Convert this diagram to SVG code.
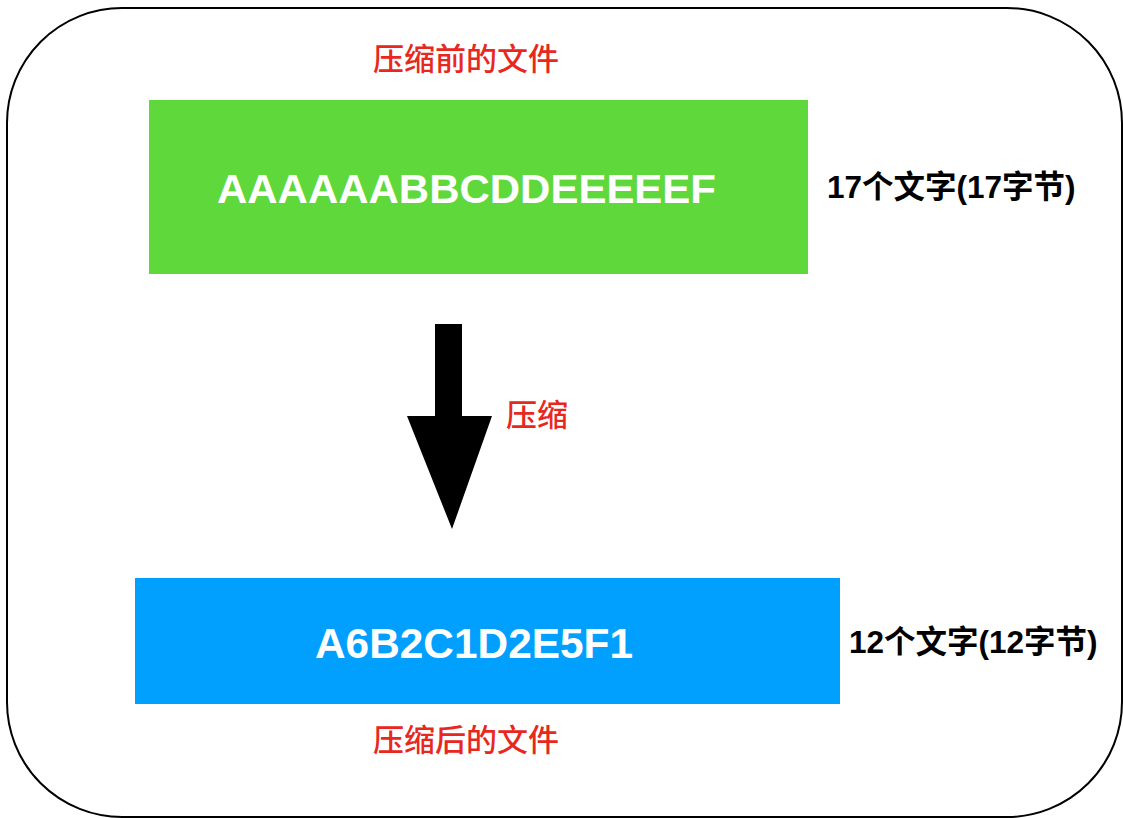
<svg xmlns="http://www.w3.org/2000/svg" width="1123" height="818" viewBox="0 0 1123 818">
  <style>
    .frame { fill: #ffffff; stroke: #000000; stroke-width: 2; }
    .code { font-family: "Liberation Sans", Arial, sans-serif; font-weight: bold; fill: #ffffff; }
    .red { font-family: "Noto Sans CJK SC", sans-serif; font-weight: 500; font-size: 31px; fill: #E8281E; }
    .count { font-family: "Liberation Sans", "Noto Sans CJK SC", sans-serif; font-weight: bold; font-size: 31.5px; fill: #000000; }
  </style>
  <rect width="1123" height="818" fill="#ffffff"/>
  <rect class="frame" x="7" y="8" width="1115" height="809" rx="115" ry="115"/>

  <g id="source-file">
    <text class="red" x="466" y="70" text-anchor="middle">压缩前的文件</text>
    <rect x="149" y="100" width="659" height="174" fill="#5ED83A"/>
    <text class="code" x="217" y="203" font-size="41" textLength="499" lengthAdjust="spacingAndGlyphs">AAAAAABBCDDEEEEEF</text>
    <text class="count" x="827" y="198">17个文字(17字节)</text>
  </g>

  <g id="connectors">
    <polygon points="435,324 462,324 462,416 492,416 452,529 407,416 435,416" fill="#000000"/>
    <text class="red" x="506" y="426">压缩</text>
  </g>

  <g id="compressed-file">
    <rect x="135" y="578" width="705" height="126" fill="#02A0FE"/>
    <text class="code" x="315" y="658" font-size="43" textLength="318" lengthAdjust="spacingAndGlyphs">A6B2C1D2E5F1</text>
    <text class="count" x="849" y="653">12个文字(12字节)</text>
    <text class="red" x="466" y="751" text-anchor="middle">压缩后的文件</text>
  </g>
</svg>
